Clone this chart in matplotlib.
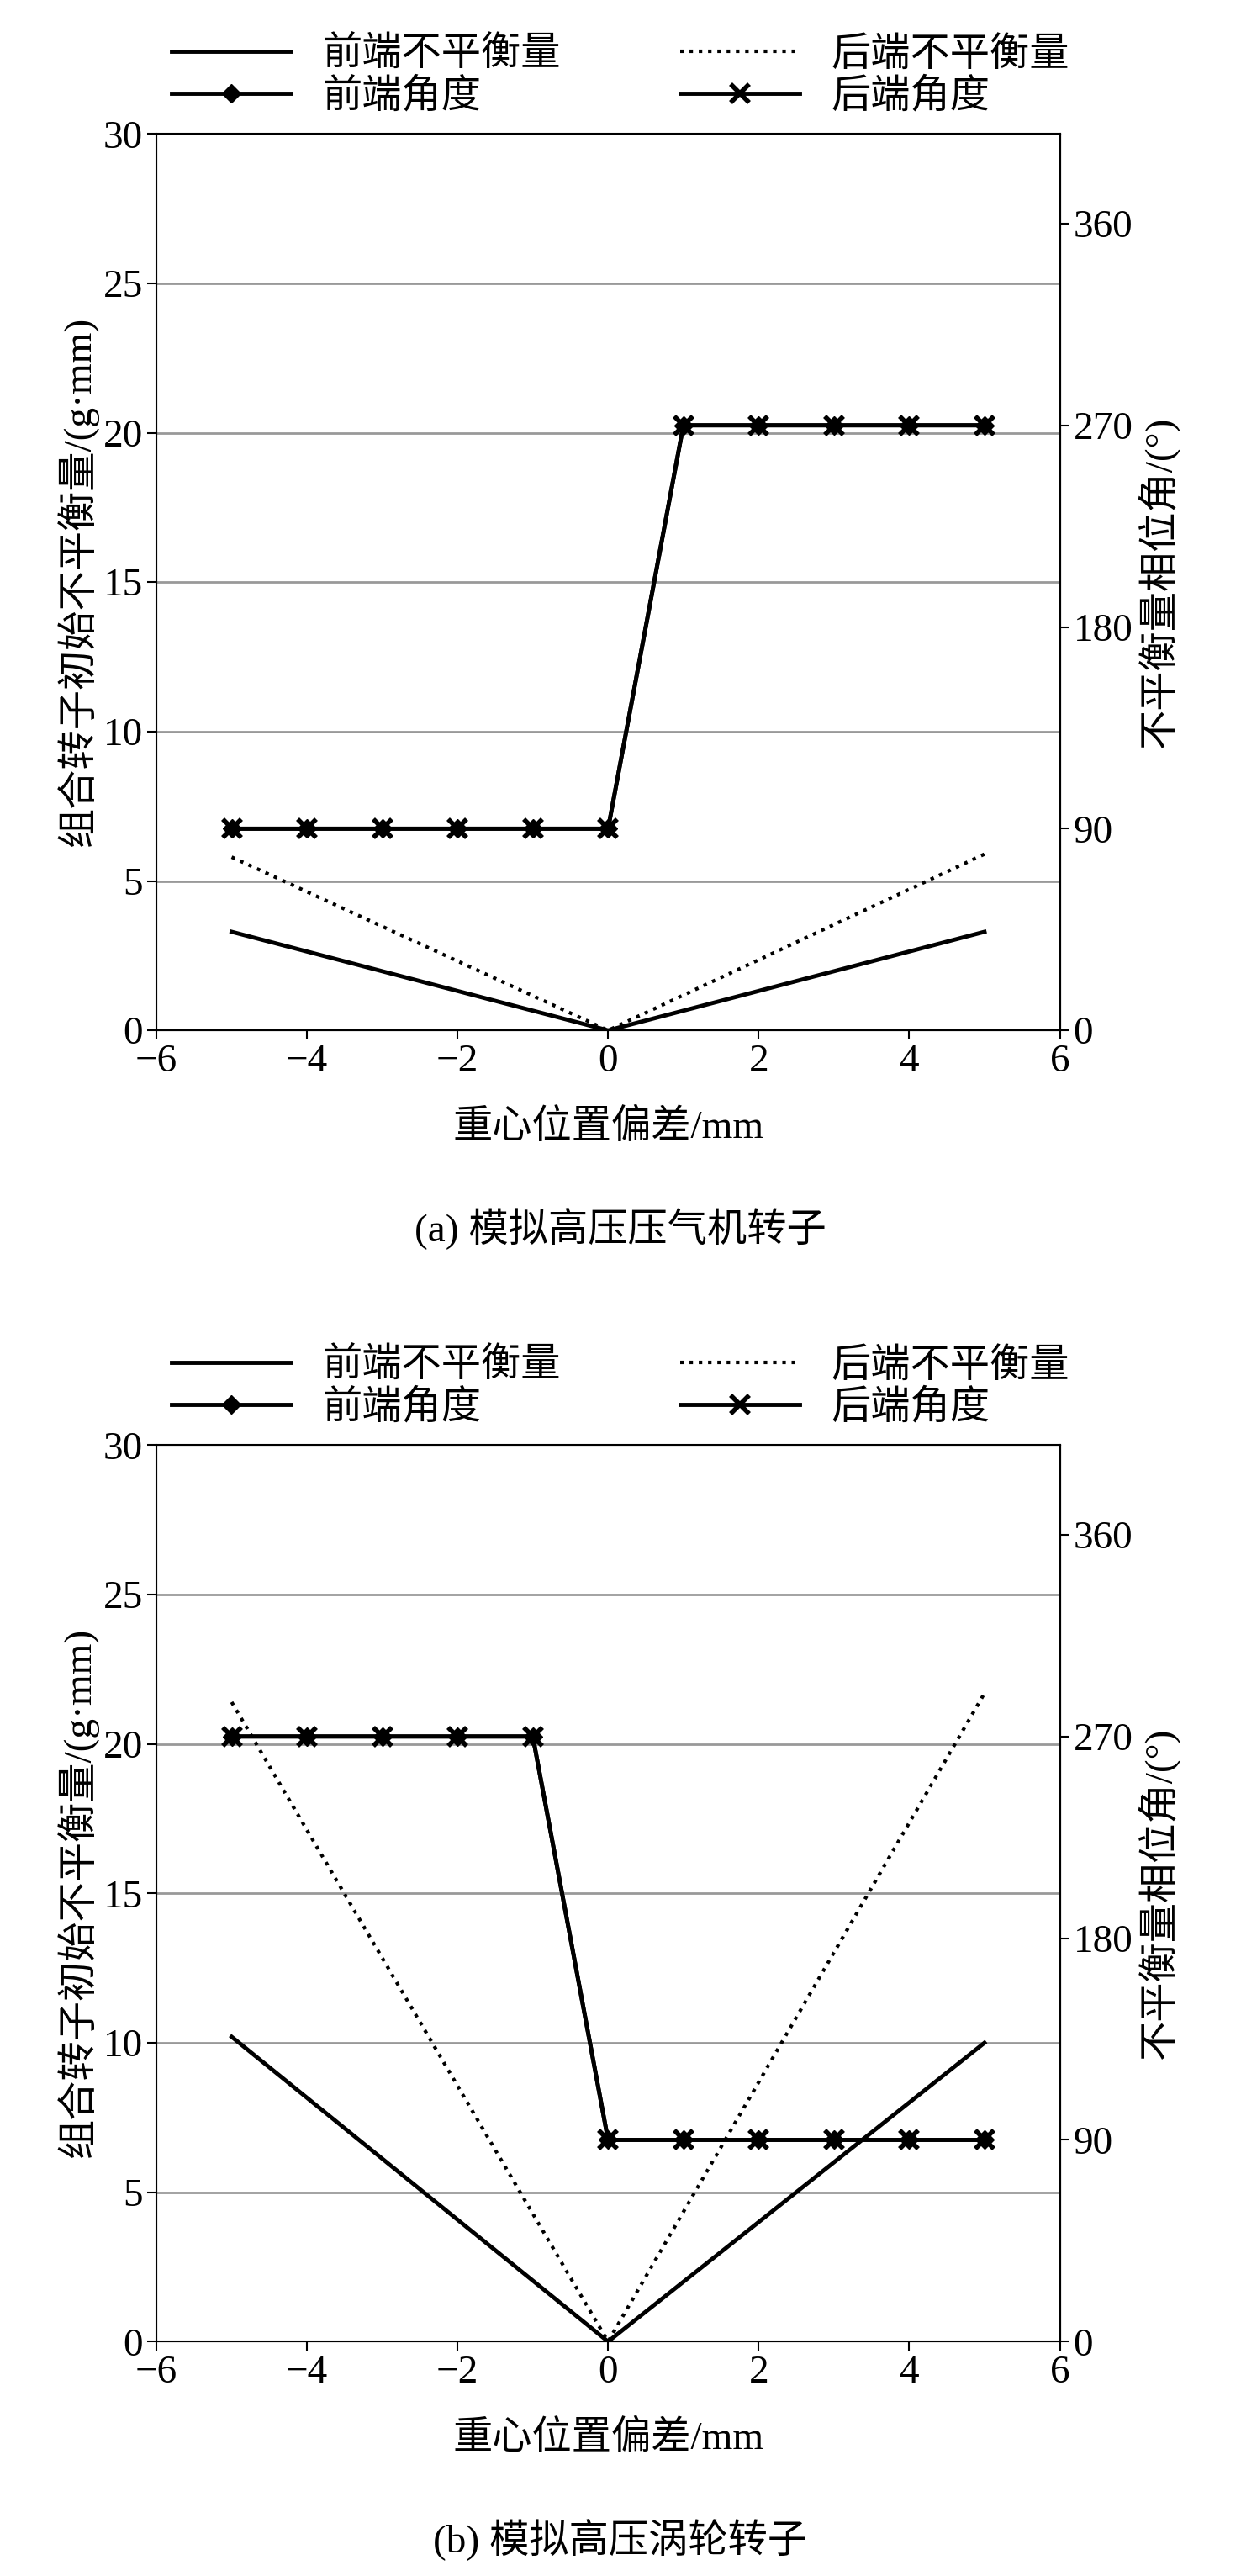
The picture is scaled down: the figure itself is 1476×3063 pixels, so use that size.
import matplotlib.pyplot as plt

plt.rcParams['font.family'] = ['Liberation Serif', 'Noto Sans CJK SC']
plt.rcParams['font.size'] = 34

x_ends = [-5, 0, 5]
x_pts = [-5, -4, -3, -2, -1, 0, 1, 2, 3, 4, 5]

a_front = [3.3, 0.0, 3.3]
a_back = [5.8, 0.0, 5.9]
a_ang = [90, 90, 90, 90, 90, 90, 270, 270, 270, 270, 270]

b_front = [10.2, 0.0, 10.0]
b_back = [21.4, 0.0, 21.7]
b_ang = [270, 270, 270, 270, 270, 90, 90, 90, 90, 90, 90]

fig = plt.figure(figsize=(14.76, 30.63), dpi=100)


def panel(bottom, front, back, ang, caption):
    ax = fig.add_axes([0.126, bottom, 0.728, 0.348])
    for y in [5, 10, 15, 20, 25]:
        ax.axhline(y, color='#999999', lw=2, zorder=0)
    l1, = ax.plot(x_ends, front, color='black', lw=3.5)
    l2, = ax.plot(x_ends, back, color='black', lw=3, ls=':')
    ax.set_xlim(-6, 6)
    ax.set_ylim(0, 30)
    ax.set_xticks([-6, -4, -2, 0, 2, 4, 6])
    ax.set_xticklabels(['\u22126', '\u22124', '\u22122', '0', '2', '4', '6'])
    ax.set_yticks([0, 5, 10, 15, 20, 25, 30])
    ax.set_ylabel('组合转子初始不平衡量/(g·mm)')
    ax.set_xlabel('重心位置偏差/mm', labelpad=25)
    ax.tick_params(direction='out', length=8, width=1.5)
    for s in ax.spines.values():
        s.set_linewidth(1.5)
    ax2 = ax.twinx()
    l3, = ax2.plot(x_pts, ang, color='black', lw=3.5, marker='D', ms=11)
    l4, = ax2.plot(x_pts, ang, color='black', lw=3.5, marker='x', ms=16, mew=4)
    ax2.set_ylim(0, 400)
    ax2.set_yticks([0, 90, 180, 270, 360])
    ax2.set_ylabel('不平衡量相位角/(°)')
    ax2.tick_params(direction='out', length=8, width=1.5)
    fig.legend([l1, l3, l2, l4], ['前端不平衡量', '前端角度', '后端不平衡量', '后端角度'],
               ncol=2, frameon=False, loc='lower center',
               bbox_to_anchor=(0.5, bottom + 0.349), handlelength=3,
               columnspacing=3, labelspacing=0.1, borderaxespad=0)
    fig.text(0.5, bottom - 0.082, caption, ha='center')


panel(0.600, a_front, a_back, a_ang, '(a) 模拟高压压气机转子')
panel(0.091, b_front, b_back, b_ang, '(b) 模拟高压涡轮转子')

fig.savefig('out.png', dpi=100)
